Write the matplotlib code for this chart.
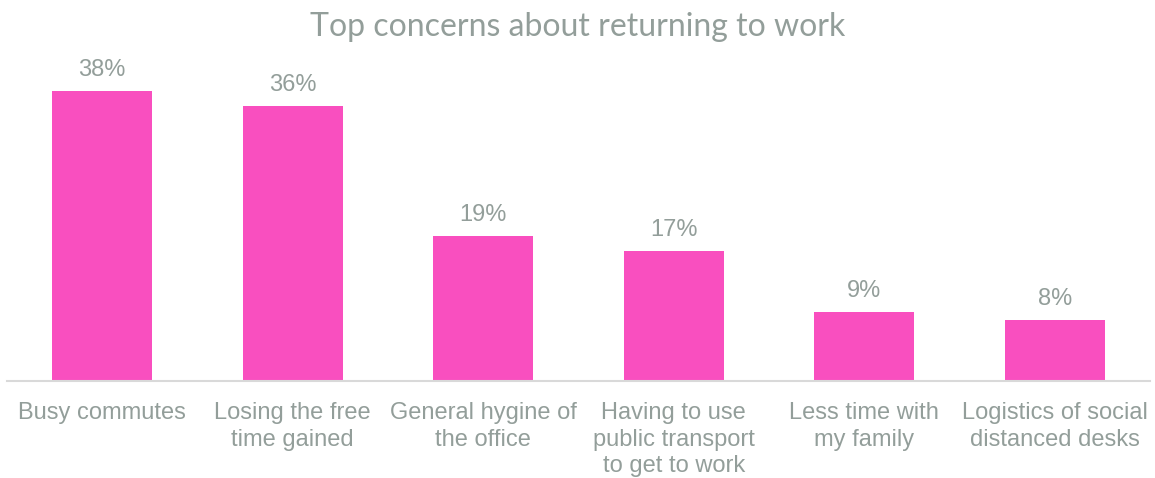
import matplotlib
matplotlib.use("Agg")
import matplotlib.pyplot as plt

categories = ["Busy commutes", "Losing the free\ntime gained", "General hygine of\nthe office",
              "Having to use\npublic transport\nto get to work", "Less time with\nmy family",
              "Logistics of social\ndistanced desks"]
values = [38, 36, 19, 17, 9, 8]
value_labels = ["38%", "36%", "19%", "17%", "9%", "8%"]

BAR = "#F94FBF"
TXT = "#939E9A"

fig = plt.figure(figsize=(11.55, 4.78), dpi=100)
ax = fig.add_axes([7/1155, 97/478, 1143/1155, 321/478])
x = list(range(len(categories)))
bars = ax.bar(x, values, width=0.525, color=BAR)
ax.set_xlim(-0.5, len(categories) - 0.5)
ax.set_ylim(0, 321/7.63)
for xi, v, lab in zip(x, values, value_labels):
    ax.annotate(lab, (xi, v), xytext=(0, 7.5), textcoords="offset points",
                ha="center", va="bottom", fontsize=17, color=TXT, family="Liberation Sans")
ax.set_xticks(x)
ax.set_xticklabels(categories, fontsize=17, color=TXT, family="Liberation Sans", linespacing=1.28)
ax.tick_params(axis="x", length=0, pad=15)
ax.set_yticks([])
for s in ["top", "left", "right"]:
    ax.spines[s].set_visible(False)
ax.spines["bottom"].set_color("#D9D9D9")
ax.spines["bottom"].set_linewidth(1.5)
fig.text(0.5, 1 - 27/478, "Top concerns about returning to work", ha="center", va="center",
         fontsize=23, color=TXT, family="Lato", fontweight="normal")
fig.savefig("out.png", dpi=100)
